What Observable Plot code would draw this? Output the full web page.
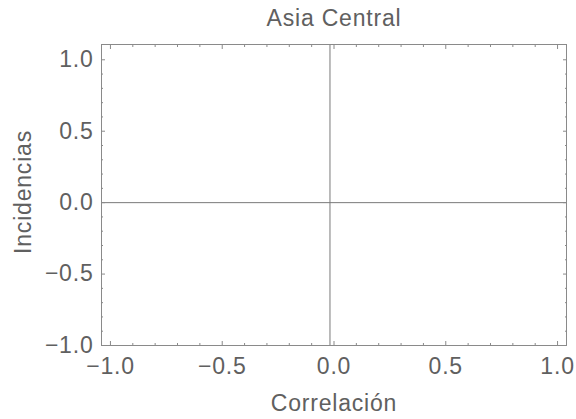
<!DOCTYPE html>
<html>
<head>
<meta charset="utf-8">
<script src="https://cdn.jsdelivr.net/npm/d3@7"></script>
<script src="https://cdn.jsdelivr.net/npm/@observablehq/plot@0.6"></script>
<style>
  html, body { margin: 0; padding: 0; background: white; }
</style>
</head>
<body>
<div id="chart"></div>
<script>
const title = "Asia Central";
const xLabel = "Correlación";
const yLabel = "Incidencias";
const xDomain = [-1.04, 1.04];
const yDomain = [-1.0, 1.107];
const majorTicks = [-1, -0.5, 0, 0.5, 1];
const minorTicks = [-0.9, -0.8, -0.7, -0.6, -0.4, -0.3, -0.2, -0.1, 0.1, 0.2, 0.3, 0.4, 0.6, 0.7, 0.8, 0.9];
const xAxisLine = [-0.018];
const yAxisLine = [0];

const fmt = d => (d < 0 ? "\u2212" : "") + Math.abs(d).toFixed(1);
const none = () => "";
const frameColor = "#8a8a8a";
const axisColor = "#7a7a7a";

function tickAxes(ticks, size) {
  return [
    Plot.axisX({anchor: "bottom", ticks, tickSize: size, dy: -size, tickFormat: none, label: null, stroke: frameColor}),
    Plot.axisX({anchor: "top", ticks, tickSize: size, dy: size, tickFormat: none, label: null, stroke: frameColor}),
    Plot.axisY({anchor: "left", ticks, tickSize: size, dx: size, tickFormat: none, label: null, stroke: frameColor}),
    Plot.axisY({anchor: "right", ticks, tickSize: size, dx: -size, tickFormat: none, label: null, stroke: frameColor})
  ];
}

const chart = Plot.plot({
  width: 576,
  height: 419,
  marginLeft: 101,
  marginRight: 10,
  marginTop: 44,
  marginBottom: 74,
  style: "font-family: 'Liberation Sans', Arial, sans-serif; font-size: 23px; letter-spacing: 0.8px; color: #606060; background: white;",
  x: {domain: xDomain},
  y: {domain: yDomain},
  marks: [
    Plot.ruleX(xAxisLine, {x: d => d, stroke: axisColor}),
    Plot.ruleY(yAxisLine, {y: d => d, stroke: axisColor}),
    Plot.frame({stroke: frameColor}),
    ...tickAxes(majorTicks, 4),
    ...tickAxes(minorTicks, 2),
    Plot.axisX({anchor: "bottom", ticks: majorTicks, tickSize: 0, tickPadding: 12, tickFormat: fmt, label: null}),
    Plot.axisY({anchor: "left", ticks: majorTicks, tickSize: 0, tickPadding: 8, tickFormat: fmt, label: null}),
    Plot.text([title], {text: d => d, frameAnchor: "top", lineAnchor: "bottom", dy: -19, fill: "#606060"}),
    Plot.text([xLabel], {text: d => d, frameAnchor: "bottom", lineAnchor: "bottom", dy: 65, fill: "#606060"}),
    Plot.text([yLabel], {text: d => d, frameAnchor: "left", textAnchor: "middle", rotate: -90, dx: -78, dy: -3, fill: "#606060"})
  ]
});
document.getElementById("chart").appendChild(chart);
</script>
</body>
</html>
